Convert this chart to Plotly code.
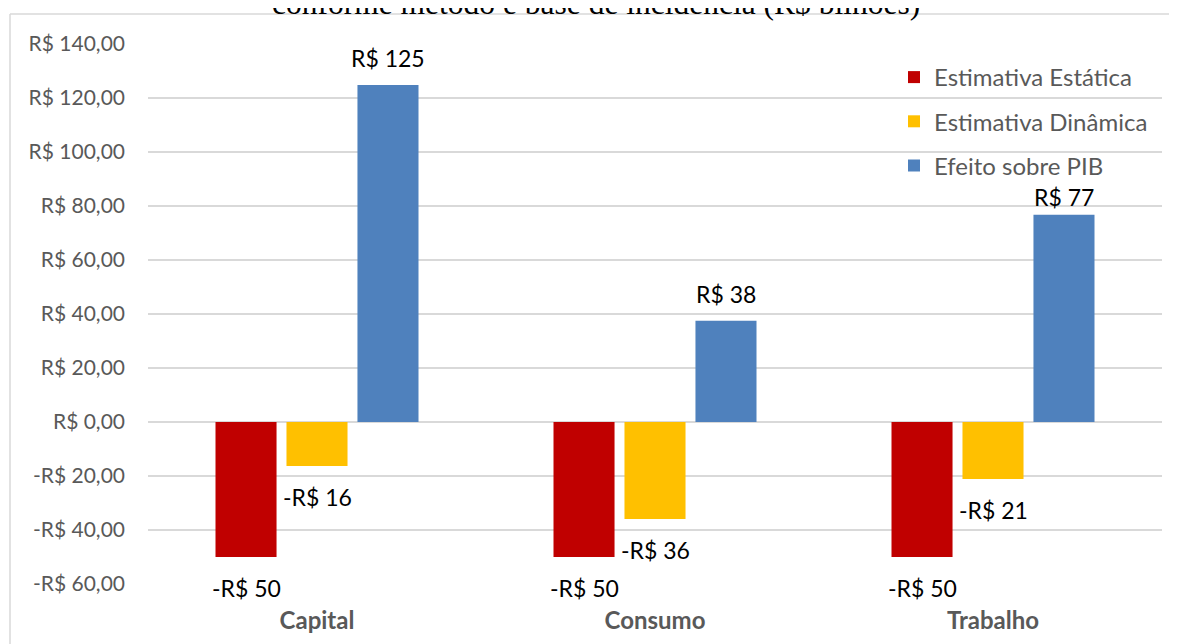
import plotly.graph_objects as go

categories = ["Capital", "Consumo", "Trabalho"]
series_names = ["Estimativa Estática", "Estimativa Dinâmica", "Efeito sobre PIB"]
estatica = [-50, -50, -50]
dinamica = [-16.3, -35.9, -21.1]
efeito_pib = [124.8, 37.5, 76.8]
y_ticks = [-60, -40, -20, 0, 20, 40, 60, 80, 100, 120, 140]
title_text = "conforme método e base de incidência (R$ bilhões)"

colors = ["#C00000", "#FFC000", "#4F81BD"]
series = [estatica, dinamica, efeito_pib]

W, H = 1177, 644
L, R, T, B = 140, 23, 36, 68
plot_w = W - L - R
plot_h = H - T - B
bargap = 0.37
slot_px = plot_w / len(categories) * (1 - bargap) / len(series)


def money(v, decimals=2):
    s = f"{abs(v):,.{decimals}f}".replace(",", "X").replace(".", ",").replace("X", ".")
    return ("-R$ " if v < 0 else "R$ ") + s


def py(px):
    # pixel from top of figure -> paper y
    return (H - B - px) / plot_h


def px_(px):
    return (px - L) / plot_w


fig = go.Figure()
for i, (name, vals, c) in enumerate(zip(series_names, series, colors)):
    fig.add_trace(go.Bar(
        x=categories, y=vals, name=name, marker=dict(color=c, line=dict(width=0)),
        legendgroup=name,
    ))

annotations = []
for i, vals in enumerate(series):
    for cat, v in zip(categories, vals):
        shift = 27 if v >= 0 else -31
        if i == 2 and cat == "Trabalho":
            shift = 18  # label nudged down to clear the legend, as in the original
        annotations.append(dict(
            x=cat, y=v, xref="x", yref="y", text=money(round(v), 0),
            showarrow=False, xshift=(i - 1) * slot_px, yshift=shift,
            font=dict(family="Lato", size=23, color="#000000"),
        ))

annotations.append(dict(
    x=px_(588), y=py(15), xref="paper", yref="paper",
    text=title_text, showarrow=False, xanchor="center", yanchor="bottom",
    font=dict(family="Liberation Serif", size=31.5, color="#000000"),
))

frame_x = px_(2)
frame_y = py(6)
shapes = [
    dict(type="line", xref="paper", yref="paper", x0=frame_x, x1=1.2, y0=frame_y, y1=frame_y,
         line=dict(color="#D9D9D9", width=1.5)),
    dict(type="line", xref="paper", yref="paper", x0=frame_x, x1=frame_x, y0=frame_y, y1=-0.3,
         line=dict(color="#D9D9D9", width=1.5)),
]

fig.update_layout(
    width=W, height=H,
    margin=dict(l=L, r=R, t=T, b=B),
    paper_bgcolor="white", plot_bgcolor="white",
    barmode="group", bargap=bargap, bargroupgap=0.14,
    font=dict(family="Lato", size=21, color="#595959"),
    showlegend=True,
    legend=dict(
        x=px_(886), xanchor="left", y=py(47), yanchor="top",
        bgcolor="rgba(0,0,0,0)", font=dict(family="Lato", size=24, color="#595959"),
        traceorder="grouped", tracegroupgap=10,
    ),
    annotations=annotations,
    shapes=shapes,
)
fig.update_xaxes(
    showgrid=False, showline=False, ticks="",
    tickfont=dict(family="Lato", size=24, color="#595959", weight="bold"),
    ticklabelstandoff=20,
)
fig.update_yaxes(
    range=[-60, 140], tickvals=y_ticks, ticktext=[money(v) for v in y_ticks],
    showgrid=True, gridcolor="#D9D9D9", gridwidth=1.5,
    zeroline=False, showline=False, ticks="",
    tickfont=dict(family="Lato", size=21, color="#595959"),
    ticklabelstandoff=22,
)

fig.write_html("out.html")
